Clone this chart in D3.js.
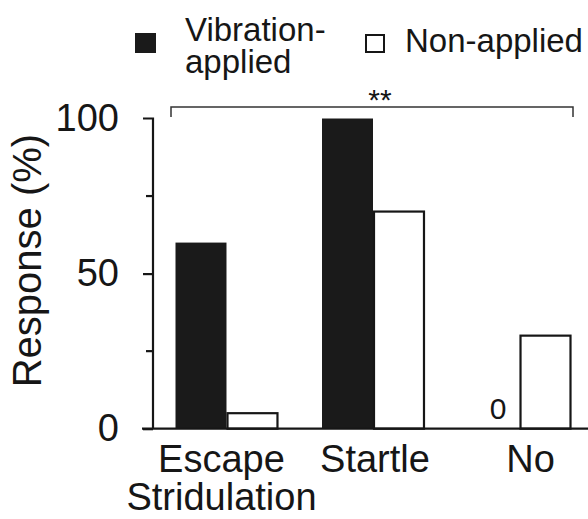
<!DOCTYPE html>
<html>
<head>
<meta charset="utf-8">
<script src="https://cdn.jsdelivr.net/npm/d3@7"></script>
<style>
  html, body { margin: 0; padding: 0; background: #fff; }
  svg { display: block; font-family: "Liberation Sans", Arial, Helvetica, sans-serif; }
</style>
</head>
<body>
<svg id="chart" width="588" height="519"></svg>
<script>
// ---- data ----
const categories = ["Escape\nStridulation", "Startle", "No"];
const seriesNames = ["Vibration-\napplied", "Non-applied"];
const vibrationApplied = [60, 100, 0];
const nonApplied = [5, 70, 30];
const yTicks = [0, 50, 100];
const yMinorTicks = [25, 75];
const significance = "**";

// ---- layout ----
const svg = d3.select("#chart");
const ink = "#161616";
const y0 = 428.7, y100 = 118.5;
const y = d3.scaleLinear().domain([0, 100]).range([y0, y100]);
const x = d3.scaleBand().domain(categories).range([175.5, 570.5]).paddingInner(0.304).paddingOuter(0);
const xs = d3.scaleBand().domain(seriesNames).range([0, x.bandwidth()]).padding(0);
const axisX = 153;

const rows = categories.map((c, i) => ({ cat: c, vals: [vibrationApplied[i], nonApplied[i]] }));

// bars
const g = svg.append("g");
rows.forEach(r => {
  r.vals.forEach((v, j) => {
    if (v <= 0) return;
    const isFilled = j === 0;
    g.append("rect")
      .attr("x", x(r.cat) + xs(seriesNames[j]) + (isFilled ? 0 : 1))
      .attr("y", y(v))
      .attr("width", xs.bandwidth() - (isFilled ? 0 : 1))
      .attr("height", y(0) - y(v))
      .attr("fill", isFilled ? "#1a1a1a" : "#fff")
      .attr("stroke", isFilled ? "none" : ink)
      .attr("stroke-width", 2.2);
  });
  // zero label
  r.vals.forEach((v, j) => {
    if (v === 0) {
      g.append("text")
        .attr("x", x(r.cat) + xs(seriesNames[j]) + xs.bandwidth() / 2 + 4)
        .attr("y", 419)
        .attr("text-anchor", "middle")
        .attr("font-size", 30)
        .attr("fill", ink)
        .text(String(v));
    }
  });
});

// x baseline
svg.append("line")
  .attr("x1", 142).attr("x2", 588)
  .attr("y1", y(0)).attr("y2", y(0))
  .attr("stroke", ink).attr("stroke-width", 2.2);

// y axis
const yAxis = d3.axisLeft(y).tickValues(yTicks).tickSize(10).tickPadding(24).tickFormat(d3.format("d"));
const ya = svg.append("g").attr("transform", `translate(${axisX},0)`).call(yAxis);
ya.select(".domain").attr("stroke", ink).attr("stroke-width", 2.2).attr("d", `M-10,${y(100)}H0V${y(0)}`);
ya.selectAll(".tick line").attr("stroke", ink).attr("stroke-width", 2.2);
ya.selectAll(".tick text").attr("font-size", 38).attr("fill", ink)
  .attr("font-family", "'Liberation Sans', Arial, sans-serif");
ya.selectAll(".tick").filter(d => d === 100).select("line").remove();
yMinorTicks.forEach(t => {
  ya.append("line").attr("x1", -7).attr("x2", 0).attr("y1", y(t)).attr("y2", y(t))
    .attr("stroke", ink).attr("stroke-width", 2.2);
});

// y title
svg.append("text")
  .attr("transform", `translate(41,${(y(0) + y(100)) / 2 - 13}) rotate(-90)`)
  .attr("text-anchor", "middle")
  .attr("font-size", 40)
  .attr("fill", ink)
  .text("Response (%)");

// category labels
const labelDx = [-5, 2, 11];
categories.forEach((c, i) => {
  const lines = c.split("\n");
  const t = svg.append("text")
    .attr("text-anchor", "middle")
    .attr("font-size", 38)
    .attr("fill", ink);
  lines.forEach((ln, k) => {
    t.append("tspan")
      .attr("x", x(c) + x.bandwidth() / 2 + labelDx[i])
      .attr("y", 472 + k * 38)
      .text(ln);
  });
});

// significance bracket
const bx1 = x(categories[0]) - 4.5;
const bx2 = x(categories[categories.length - 1]) + x.bandwidth() + 2.5;
svg.append("path")
  .attr("d", `M${bx1},117V107H${bx2}V117`)
  .attr("fill", "none").attr("stroke", "#333").attr("stroke-width", 1.5);
svg.append("text")
  .attr("x", 380).attr("y", 110)
  .attr("text-anchor", "middle")
  .attr("font-size", 30)
  .attr("fill", ink)
  .text(significance);

// legend
svg.append("rect").attr("x", 135).attr("y", 33).attr("width", 21).attr("height", 20).attr("fill", "#1a1a1a");
seriesNames[0].split("\n").forEach((ln, k) => {
  svg.append("text").attr("font-size", 33).attr("fill", ink)
    .attr("x", 185).attr("y", 41 + k * 32).text(ln);
});
svg.append("rect").attr("x", 366).attr("y", 35).attr("width", 18).attr("height", 17)
  .attr("fill", "#fff").attr("stroke", ink).attr("stroke-width", 2);
svg.append("text").attr("x", 405).attr("y", 52).attr("font-size", 33).attr("fill", ink).text(seriesNames[1]);
</script>
</body>
</html>
